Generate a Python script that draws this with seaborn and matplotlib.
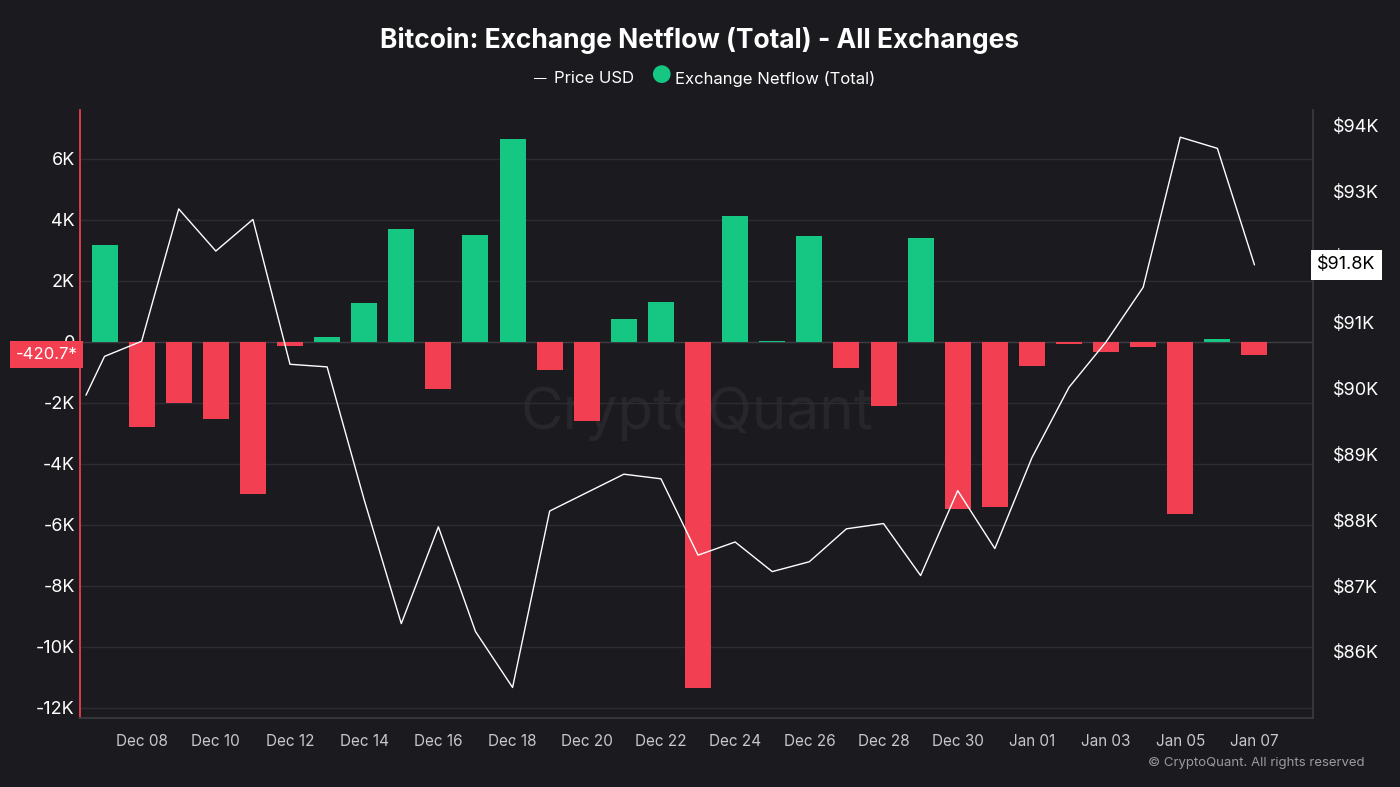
import numpy as np
import pandas as pd
import matplotlib
matplotlib.use("Agg")
import matplotlib.pyplot as plt
import matplotlib.dates as mdates
import seaborn as sns

# daily exchange netflow, Dec 07 .. Jan 07
flow_dates = pd.date_range("2024-12-07", "2025-01-07", freq="D")
netflow = [3180, -2790, -2000, -2520, -5000, -130, 160, 1280, 3700, -1540,
           3500, 6660, -920, -2590, 750, 1310, -11340, 4130, 30, 3480,
           -850, -2100, 3410, -5480, -5410, -790, -70, -330, -160, -5640,
           100, -420.7]

# price line (first point sits half a day before the first bar)
price_dates = [pd.Timestamp("2024-12-06 12:00")] + list(flow_dates)
price = [89.90, 90.49, 90.72, 92.73, 92.09, 92.57, 90.37, 90.33, 88.31, 86.43,
         87.90, 86.31, 85.46, 88.14, 88.42, 88.70, 88.63, 87.47, 87.67, 87.22,
         87.37, 87.87, 87.95, 87.16, 88.45, 87.57, 88.95, 90.02, 90.71, 91.54,
         93.82, 93.65, 91.88]

BG = "#1b1b1f"
GREEN = "#16c784"
RED = "#f23f52"

sns.set_theme(style="dark")
plt.rcParams["font.family"] = ["Inter", "DejaVu Sans"]

fig = plt.figure(figsize=(14, 7.87), dpi=100, facecolor=BG)
ax = fig.add_axes([0.057, 0.088, 0.881, 0.772], facecolor=BG)

df = pd.DataFrame({"x": mdates.date2num(flow_dates), "flow": netflow})
df["sign"] = np.where(df["flow"] >= 0, "pos", "neg")
sns.barplot(data=df, x="x", y="flow", hue="sign", palette={"pos": GREEN, "neg": RED},
            native_scale=True, width=0.7, saturation=1, linewidth=0,
            legend=False, ax=ax, zorder=2)
ax.axhline(0, color="#3a3a40", lw=1, zorder=1)

ax.set_ylim(-12330, 7600)
ax.set_yticks(np.arange(-12000, 6001, 2000))
ax.set_yticklabels([f"{v // 1000}K" if v != 0 else "0" for v in range(-12000, 6001, 2000)])
ax.grid(axis="y", color="#2c2c31", lw=1)
ax.grid(axis="x", visible=False)
ax.set_xlim(mdates.date2num(pd.Timestamp("2024-12-06 08:00")),
            mdates.date2num(pd.Timestamp("2025-01-08 14:00")))
ticks = pd.date_range("2024-12-08", "2025-01-07", freq="2D")
ax.set_xticks(mdates.date2num(ticks))
ax.set_xticklabels([t.strftime("%b %d") for t in ticks])
ax.tick_params(axis="x", colors="#c8c8cc", labelsize=11, length=0, pad=12)
ax.tick_params(axis="y", colors="white", labelsize=13, length=0)
ax.set_xlabel("")
ax.set_ylabel("")
for s in ax.spines.values():
    s.set_visible(False)
ax.spines["left"].set_visible(True)
ax.spines["left"].set_color(RED)
ax.spines["bottom"].set_visible(True)
ax.spines["bottom"].set_color("#3a3a40")

ax2 = ax.twinx()
sns.lineplot(x=mdates.date2num(price_dates), y=price, color="white", lw=1, ax=ax2)
ax2.set_ylim(85.0, 94.23)
ax2.set_yticks(range(86, 95))
ax2.set_yticklabels([f"${v}K" for v in range(86, 95)])
ax2.tick_params(axis="y", colors="white", labelsize=13, length=0, pad=14)
ax2.grid(False)
for s in ax2.spines.values():
    s.set_visible(False)
ax2.spines["right"].set_visible(True)
ax2.spines["right"].set_color("#3a3a40")

# value tags
ax.text(-0.002, netflow[-1], f"{netflow[-1]}*", transform=ax.get_yaxis_transform(),
        ha="right", va="center", color="white", fontsize=12,
        bbox=dict(boxstyle="square,pad=0.35", fc=RED, ec="none"))
ax2.text(1.003, price[-1], "$91.8K", transform=ax2.get_yaxis_transform(),
         ha="left", va="center", color="black", fontsize=13,
         bbox=dict(boxstyle="square,pad=0.35", fc="white", ec="none"))

ax.text(0.5, 0.5, "CryptoQuant", transform=ax.transAxes, ha="center", va="center",
        fontsize=42, color="#26262b", zorder=0)

fig.text(0.5, 0.948, "Bitcoin: Exchange Netflow (Total) - All Exchanges", ha="center",
         va="center", color="white", fontsize=19, fontweight="bold")
fig.text(0.386, 0.9, "—", ha="center", va="center", color="white", fontsize=9)
fig.text(0.396, 0.9, "Price USD", ha="left", va="center", color="white", fontsize=12)
fig.text(0.472, 0.902, "●", ha="center", va="center", color=GREEN, fontsize=17)
fig.text(0.482, 0.9, "Exchange Netflow (Total)", ha="left", va="center", color="white", fontsize=12)
fig.text(0.975, 0.03, "© CryptoQuant. All rights reserved", ha="right", va="center",
         color="#9a9aa0", fontsize=9.5)

fig.savefig("out.png", dpi=100, facecolor=BG)
